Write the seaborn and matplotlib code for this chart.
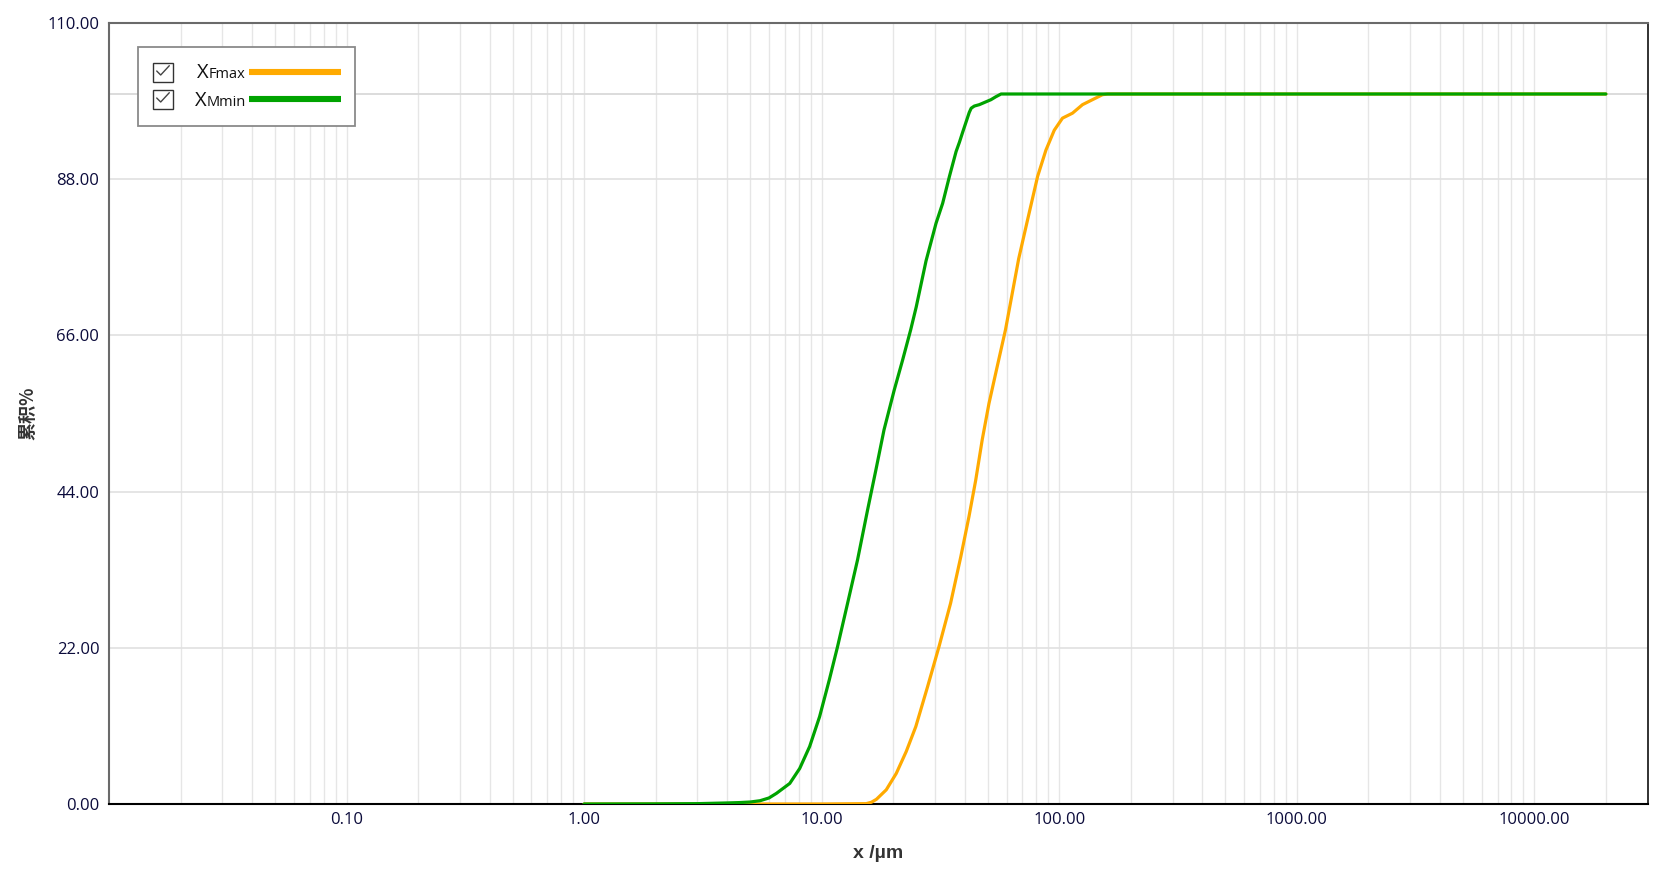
import numpy as np
import pandas as pd
import matplotlib
matplotlib.use("Agg")
import matplotlib.pyplot as plt
import seaborn as sns
from matplotlib.ticker import FixedLocator, FixedFormatter, LogLocator, NullFormatter
from matplotlib.offsetbox import TextArea, HPacker, AnnotationBbox
from matplotlib.patches import Rectangle
from matplotlib.lines import Line2D

# ---------------- data ----------------
green_x = [1.0, 2.0, 3.0, 4.0, 4.5, 5.0, 5.5, 6.0, 6.45, 7.34, 8.08, 8.9, 9.8, 10.77, 11.67,
           12.86, 14.16, 15.6, 16.9, 18.3, 20.2, 21.9, 23.7, 25.0, 27.5, 30.3, 32.3, 34.5,
           36.8, 38.0, 39.2, 41.8, 42.6, 43.9, 46.1, 47.6, 51.6, 54.0, 56.9, 20000.0]
green_y = [0.0, 0.02, 0.05, 0.15, 0.2, 0.28, 0.46, 0.85, 1.5, 2.9, 5.0, 8.1, 12.3, 17.5, 22.2,
           28.3, 34.4, 41.4, 47.0, 52.7, 58.3, 62.5, 66.8, 70.0, 76.5, 81.8, 84.6, 88.4,
           91.9, 93.2, 94.6, 97.4, 98.0, 98.3, 98.5, 98.7, 99.2, 99.6, 100.0, 100.0]

orange_x = [1.0, 5.0, 10.0, 15.4, 16.2, 17.0, 18.7, 20.6, 22.7, 24.9, 27.9, 31.2, 34.9, 38.5,
            41.7, 44.5, 47.4, 50.6, 54.8, 59.4, 67.5, 73.6, 81.1, 87.9, 95.3, 103.2,
            113.7, 125.3, 138.0, 152.0, 160.0, 20000.0]
orange_y = [0.0, 0.0, 0.0, 0.05, 0.25, 0.66, 2.0, 4.3, 7.4, 10.9, 16.5, 22.2, 28.3, 34.8,
            40.5, 45.6, 51.3, 56.4, 61.6, 66.8, 76.8, 82.3, 88.4, 92.1, 94.9, 96.6,
            97.3, 98.5, 99.2, 99.9, 100.0, 100.0]

series_main = ["X", "X"]
series_sub = ["Fmax", "Mmin"]
x_tick_values = [0.1, 1, 10, 100, 1000, 10000]
x_tick_labels = ["0.10", "1.00", "10.00", "100.00", "1000.00", "10000.00"]
y_tick_values = [0, 22, 44, 66, 88, 110]
y_tick_labels = ["0.00", "22.00", "44.00", "66.00", "88.00", "110.00"]
y_extra_grid = [100]
x_label = "x /µm"
y_label = "累积%"

ORANGE = "#FFAA00"
GREEN = "#00A300"

# ---------------- figure ----------------
sns.set_style("white")
plt.rcParams["font.family"] = ["Open Sans", "DejaVu Sans"]

W, H = 1678, 871
fig = plt.figure(figsize=(W / 100, H / 100), dpi=100)
ax_l, ax_r, ax_t, ax_b = 109, 1647.7, 23, 804
ax = fig.add_axes([ax_l / W, 1 - ax_b / H, (ax_r - ax_l) / W, (ax_b - ax_t) / H])

df_o = pd.DataFrame({"x": orange_x, "y": orange_y})
df_g = pd.DataFrame({"x": green_x, "y": green_y})
sns.lineplot(data=df_o, x="x", y="y", ax=ax, color=ORANGE, linewidth=2.3,
             estimator=None, sort=False, legend=False, zorder=3)
sns.lineplot(data=df_g, x="x", y="y", ax=ax, color=GREEN, linewidth=2.3,
             estimator=None, sort=False, legend=False, zorder=4)
for ln in ax.get_lines():
    ln.set_solid_joinstyle("round")

ax.set_xscale("log")
ax.set_xlim(0.01, 30000)
ax.set_ylim(0, 110)

ax.xaxis.set_major_locator(FixedLocator(x_tick_values))
ax.xaxis.set_major_formatter(FixedFormatter(x_tick_labels))
ax.xaxis.set_minor_locator(LogLocator(base=10, subs=np.arange(2, 10), numticks=200))
ax.xaxis.set_minor_formatter(NullFormatter())
ax.yaxis.set_major_locator(FixedLocator(y_tick_values))
ax.yaxis.set_major_formatter(FixedFormatter(y_tick_labels))

ax.set_axisbelow(True)
ax.grid(True, which="both", axis="x", color="#e6e6e6", linewidth=1.0)
ax.grid(True, which="major", axis="y", color="#e0e0e0", linewidth=1.2)
for yv in y_extra_grid:
    ax.axhline(yv, color="#d9d9d9", linewidth=1.3, zorder=0.6)

ax.tick_params(axis="both", which="both", length=0, labelsize=12, labelcolor="#0b0b3b")
ax.tick_params(axis="x", pad=6)
ax.tick_params(axis="y", pad=7)

for side, col, lw in [("top", "#6a6a6a", 1.5), ("left", "#6a6a6a", 1.5),
                      ("bottom", "#000000", 1.5), ("right", "#222222", 1.3)]:
    ax.spines[side].set_visible(True)
    ax.spines[side].set_color(col)
    ax.spines[side].set_linewidth(lw)

ax.set_xlabel(x_label, fontsize=14, fontweight="bold", color="#333333",
              family=["Liberation Sans", "DejaVu Sans"])
ax.xaxis.label.set_va("center")
ax.xaxis.set_label_coords(0.5, (ax_b - 853) / (ax_b - ax_t))
ax.set_ylabel(y_label, fontsize=13, fontweight="bold", color="#333333",
              family=["Noto Sans CJK SC", "DejaVu Sans"])
ax.yaxis.label.set_va("center")
ax.yaxis.set_label_coords((28 - ax_l) / (ax_r - ax_l), 0.5)


# ---------------- custom legend (checkbox style) ----------------
def fx(px):
    return (px - ax_l) / (ax_r - ax_l)


def fy(py):
    return (ax_b - py) / (ax_b - ax_t)


tr = ax.transAxes
ax.add_patch(Rectangle((fx(138), fy(126)), fx(355) - fx(138), fy(47) - fy(126),
                       transform=tr, facecolor="white", edgecolor="#8a8a8a",
                       linewidth=1.3, zorder=10, clip_on=False))

row_y = [72.5, 99.5]
colors = [ORANGE, GREEN]
for i, (ry, col) in enumerate(zip(row_y, colors)):
    # checkbox
    ax.add_patch(Rectangle((fx(153.3), fy(ry + 9.3)), fx(172.7) - fx(153.3), fy(ry - 9.7) - fy(ry + 9.3),
                           transform=tr, facecolor="white", edgecolor="#333333",
                           linewidth=1.0, zorder=11, clip_on=False))
    ax.add_line(Line2D([fx(156.7), fx(160.7), fx(169.3)],
                       [fy(ry - 1.5), fy(ry + 2.5), fy(ry - 6.8)],
                       transform=tr, color="#444444", linewidth=1.0, zorder=12, clip_on=False))
    # legend line sample
    ax.add_line(Line2D([fx(249), fx(341)], [fy(ry), fy(ry)], transform=tr, color=col,
                       linewidth=4.4, solid_capstyle="butt", zorder=12, clip_on=False))
    # label: big X + same-baseline small suffix
    t1 = TextArea(series_main[i], textprops=dict(size=14.5, color="#111111"))
    t2 = TextArea(series_sub[i], textprops=dict(size=10.5, color="#111111"))
    pack = HPacker(children=[t1, t2], align="baseline", pad=0, sep=0)
    ab = AnnotationBbox(pack, (fx(245.5), fy(ry + 1.0)), xycoords=tr, box_alignment=(1, 0.5),
                        frameon=False, pad=0, zorder=12, annotation_clip=False)
    ax.add_artist(ab)

fig.savefig("out.png", dpi=100)
